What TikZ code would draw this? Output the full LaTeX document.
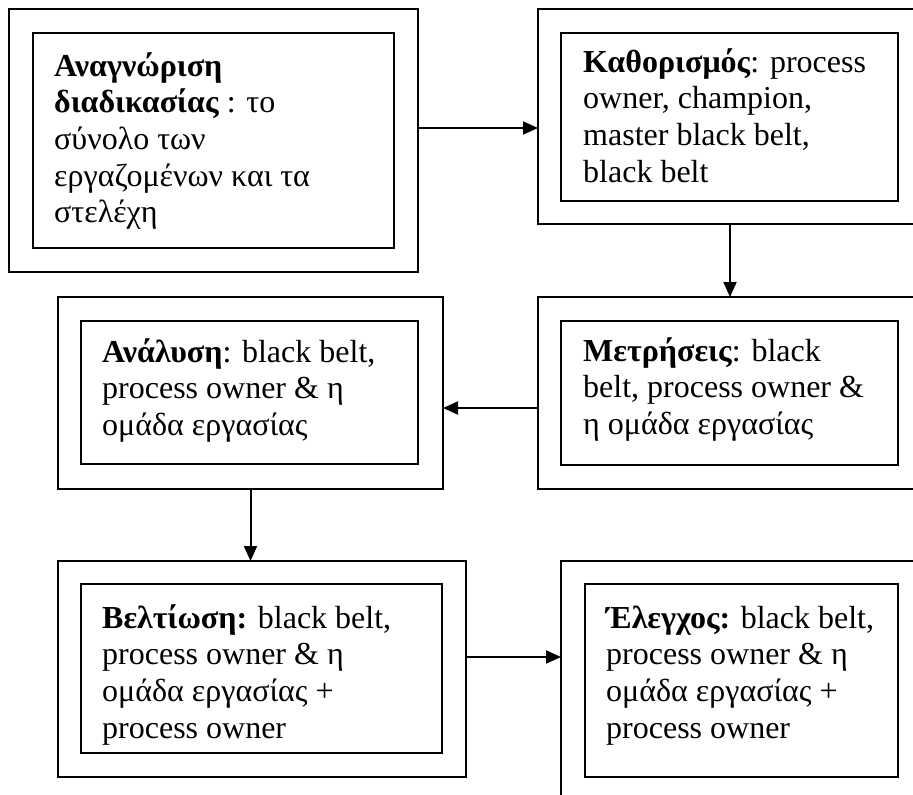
\documentclass[tikz,border=0pt]{standalone}
\usepackage{fontspec}
\setmainfont{Liberation Serif}
\usetikzlibrary{arrows.meta}
\newcommand{\boxlines}[1]{\begin{tabular}[t]{@{}l@{}}#1\end{tabular}}
\begin{document}
\begin{tikzpicture}[x=1pt,y=-1pt,
  box/.style={draw, line width=2pt, inner sep=0pt, outer sep=0pt, anchor=north west},
  txt/.style={anchor=base west, inner sep=0pt, font=\fontsize{32}{36.7}\selectfont},
  arr/.style={line width=2pt, -{Triangle[length=15pt,width=13pt]}}]
\useasboundingbox (0,0) rectangle (913,795);
\fill[white] (0,0) rectangle (913,795);
\clip (0,0) rectangle (913,795);
% outer boxes
\node[box, minimum width=409pt, minimum height=263pt] (o1) at (9,9) {};
\node[box, minimum width=384pt, minimum height=215pt] (o2) at (538,9) {};
\node[box, minimum width=384pt, minimum height=192pt] (o3) at (538,297) {};
\node[box, minimum width=385pt, minimum height=192pt] (o4) at (58,297) {};
\node[box, minimum width=408pt, minimum height=216pt] (o5) at (58,561) {};
\node[box, minimum width=380pt, minimum height=260pt] (o6) at (561,561) {};
% inner boxes
\node[box, minimum width=361pt, minimum height=215pt] (i1) at (33,33) {};
\node[box, minimum width=337pt, minimum height=168pt] (i2) at (561,33) {};
\node[box, minimum width=337pt, minimum height=144pt] (i3) at (561,321) {};
\node[box, minimum width=337pt, minimum height=143pt] (i4) at (81,321) {};
\node[box, minimum width=361pt, minimum height=169pt] (i5) at (81,584) {};
\node[box, minimum width=313pt, minimum height=193pt] (i6) at (585,584) {};
% texts
\node[txt] (t1) at ([xshift=21pt,yshift=-43pt]i1.north west)
  {\boxlines{\textbf{Αναγνώριση}\\ \textbf{διαδικασίας} : το\\ σύνολο των\\ εργαζομένων και τα\\ στελέχη}};
\node[txt] (t2) at ([xshift=22pt,yshift=-39pt]i2.north west)
  {\boxlines{\textbf{Καθορισμός}: process\\ owner, champion,\\ master black belt,\\ black belt}};
\node[txt] (t3) at ([xshift=22pt,yshift=-40pt]i3.north west)
  {\boxlines{\textbf{Μετρήσεις}: black\\ belt, process owner \&\\ η ομάδα εργασίας}};
\node[txt] (t4) at ([xshift=21pt,yshift=-41pt]i4.north west)
  {\boxlines{\textbf{Ανάλυση}: black belt,\\ process owner \& η\\ ομάδα εργασίας}};
\node[txt] (t5) at ([xshift=21pt,yshift=-44pt]i5.north west)
  {\boxlines{\textbf{Βελτίωση:} black belt,\\ process owner \& η\\ ομάδα εργασίας +\\ process owner}};
\node[txt] (t6) at ([xshift=21pt,yshift=-44pt]i6.north west)
  {\boxlines{\textbf{Έλεγχος:} black belt,\\ process owner \& η\\ ομάδα εργασίας +\\ process owner}};
% connectors
\draw[arr] ([yshift=12.5pt]o1.east) -- ([yshift=12.5pt]o1.east -| o2.west);
\draw[arr] (o2.south) -- (o3.north);
\draw[arr] ([yshift=-15pt]o3.west) -- ([yshift=-15pt]o3.west -| o4.east);
\draw[arr] (o4.south) -- (o4.south |- o5.north);
\draw[arr] ([yshift=12pt]o5.east) -- ([yshift=12pt]o5.east -| o6.west);
\end{tikzpicture}
\end{document}
